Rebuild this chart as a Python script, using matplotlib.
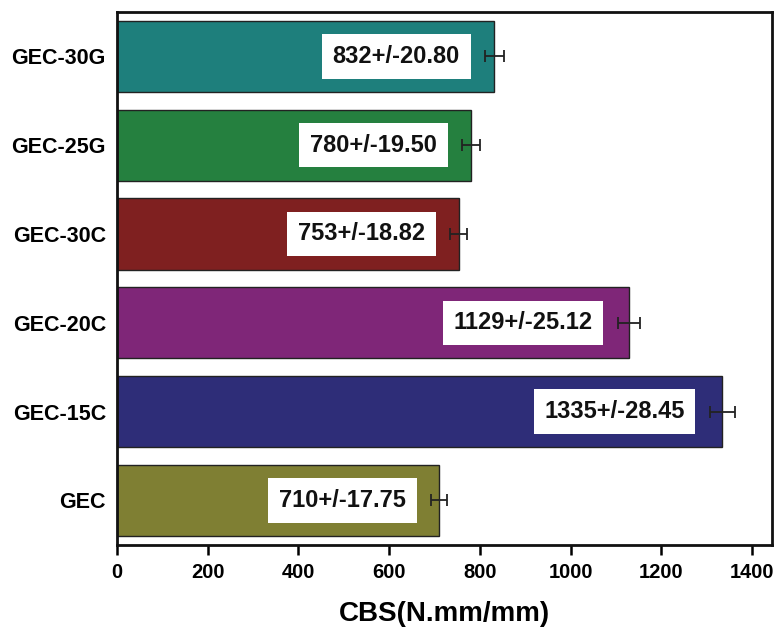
import matplotlib
matplotlib.use("Agg")
import matplotlib.pyplot as plt

categories = ["GEC", "GEC-15C", "GEC-20C", "GEC-30C", "GEC-25G", "GEC-30G"]
values = [710, 1335, 1129, 753, 780, 832]
errors = [17.75, 28.45, 25.12, 18.82, 19.50, 20.80]
labels = ["710+/-17.75", "1335+/-28.45", "1129+/-25.12", "753+/-18.82", "780+/-19.50", "832+/-20.80"]
colors = ["#7f7f33", "#2e2d78", "#7f2678", "#7f2020", "#25803f", "#1e7f7c"]
xticks = [0, 200, 400, 600, 800, 1000, 1200, 1400]

plt.rcParams['font.family'] = ['Liberation Sans', 'DejaVu Sans']
plt.rcParams['font.weight'] = 'bold'

fig = plt.figure(figsize=(7.75, 6.32), dpi=100)
ax = fig.add_axes([0.151, 0.138, 0.845, 0.843])

y = list(range(len(categories)))
ax.barh(y, values, height=0.8, color=colors, edgecolor="#222222", linewidth=1.0, zorder=2)
ax.errorbar(values, y, xerr=errors, fmt='none', ecolor='#222222', elinewidth=1.3,
            capsize=4, capthick=1.3, zorder=3)

for yi, v, e, lab in zip(y, values, errors, labels):
    ax.annotate(lab, xy=(v - e, yi), xytext=(-18, 0), textcoords='offset points',
                ha='right', va='center', fontsize=17, fontweight='bold',
                color='#111111', zorder=4,
                bbox=dict(boxstyle='square,pad=0.45', facecolor='white', edgecolor='none'))

ax.set_xlim(0, 1444)
ax.set_ylim(-0.5, 5.5)
ax.set_yticks(y)
ax.set_yticklabels(categories, fontsize=15.5, fontweight='bold')
ax.set_xticks(xticks)
ax.set_xticklabels([str(t) for t in xticks], fontsize=14.5, fontweight='bold')
ax.tick_params(axis='y', length=0, pad=8)
ax.tick_params(axis='x', direction='out', length=7, width=1.8, pad=6)
for s in ax.spines.values():
    s.set_linewidth(2)
    s.set_color('#111111')
ax.set_xlabel("CBS(N.mm/mm)", fontsize=20, fontweight='bold', labelpad=14)

fig.savefig("out.png", dpi=100)
